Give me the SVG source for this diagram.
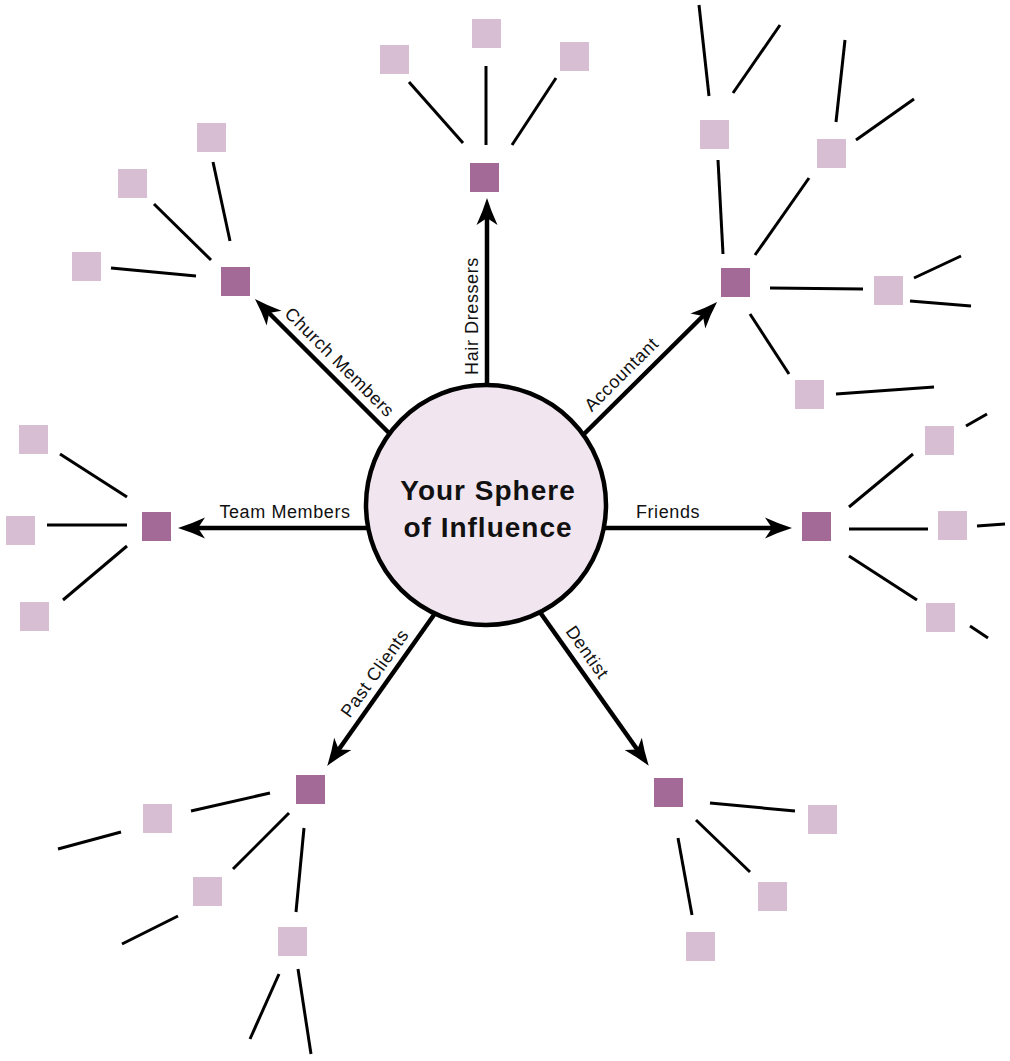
<svg xmlns="http://www.w3.org/2000/svg" width="1010" height="1061" viewBox="0 0 1010 1061">
<style>
.hub{fill:#a36a98}
.leaf{fill:#d8bed3}
.br{stroke:#000;stroke-width:3;fill:none}
.arr{stroke:#000;stroke-width:4.5;fill:none;marker-end:url(#ah)}
.lbl{font-family:"Liberation Sans",Arial,sans-serif;font-size:18px;letter-spacing:0.6px;fill:#111;text-anchor:middle}
.title{font-family:"Liberation Sans",Arial,sans-serif;font-size:28px;font-weight:bold;letter-spacing:1px;fill:#111;text-anchor:middle}
</style>
<defs>
<marker id="ah" markerUnits="userSpaceOnUse" viewBox="-12 -12 32 24" refX="0" refY="0" markerWidth="32" markerHeight="24" orient="auto" overflow="visible">
<path d="M17,0 Q4,-4 -10,-10.5 L-3,0 L-10,10.5 Q4,4 17,0 Z" fill="#000"/>
</marker>
</defs>
<rect width="1010" height="1061" fill="#fff"/>
<g id="connectors">
<line class="arr" x1="487" y1="390" x2="487" y2="215"/>
<line class="arr" x1="392" y1="436" x2="267" y2="311"/>
<line class="arr" x1="582" y1="436" x2="705" y2="314"/>
<line class="arr" x1="370" y1="528" x2="195" y2="528"/>
<line class="arr" x1="602" y1="528" x2="775" y2="528"/>
<line class="arr" x1="436" y1="612" x2="337" y2="752"/>
<line class="arr" x1="537" y1="608" x2="639" y2="752"/>
<!-- hair -->
<line class="br" x1="409" y1="82" x2="463" y2="143"/>
<line class="br" x1="486" y1="66" x2="486" y2="145"/>
<line class="br" x1="556" y1="78" x2="512" y2="145"/>
<!-- accountant -->
<line class="br" x1="699" y1="5" x2="709" y2="96"/>
<line class="br" x1="780" y1="25" x2="733" y2="93"/>
<line class="br" x1="845" y1="40" x2="836" y2="122"/>
<line class="br" x1="914" y1="99" x2="856" y2="140"/>
<line class="br" x1="718" y1="160" x2="723" y2="254"/>
<line class="br" x1="809" y1="178" x2="755" y2="255"/>
<line class="br" x1="770" y1="288" x2="863" y2="289"/>
<line class="br" x1="914" y1="278" x2="961" y2="256"/>
<line class="br" x1="910" y1="301" x2="971" y2="306"/>
<line class="br" x1="750" y1="314" x2="789" y2="374"/>
<line class="br" x1="836" y1="394" x2="934" y2="387"/>
<!-- friends -->
<line class="br" x1="966" y1="426" x2="987" y2="414"/>
<line class="br" x1="849" y1="507" x2="913" y2="454"/>
<line class="br" x1="849" y1="529" x2="928" y2="529"/>
<line class="br" x1="849" y1="556" x2="917" y2="600"/>
<line class="br" x1="977" y1="526" x2="1005" y2="524"/>
<line class="br" x1="970" y1="626" x2="988" y2="638"/>
<!-- team -->
<line class="br" x1="60" y1="454" x2="127" y2="497"/>
<line class="br" x1="47" y1="525" x2="127" y2="525"/>
<line class="br" x1="127" y1="546" x2="63" y2="600"/>
<!-- church -->
<line class="br" x1="213" y1="162" x2="230" y2="241"/>
<line class="br" x1="154" y1="204" x2="211" y2="260"/>
<line class="br" x1="111" y1="268" x2="196" y2="276"/>
<!-- past clients -->
<line class="br" x1="191" y1="811" x2="270" y2="793"/>
<line class="br" x1="58" y1="849" x2="121" y2="832"/>
<line class="br" x1="289" y1="813" x2="233" y2="869"/>
<line class="br" x1="178" y1="916" x2="122" y2="944"/>
<line class="br" x1="304" y1="828" x2="296" y2="912"/>
<line class="br" x1="279" y1="974" x2="250" y2="1039"/>
<line class="br" x1="298" y1="969" x2="311" y2="1054"/>
<!-- dentist -->
<line class="br" x1="710" y1="803" x2="795" y2="811"/>
<line class="br" x1="696" y1="820" x2="750" y2="872"/>
<line class="br" x1="678" y1="838" x2="692" y2="915"/>
<!-- labels -->
<text class="lbl" transform="translate(478,316) rotate(-90)" x="0" y="0">Hair Dressers</text>
<text class="lbl" transform="translate(329,373) rotate(45)" x="0" y="-9">Church Members</text>
<text class="lbl" transform="translate(632,385) rotate(-45)" x="0" y="-9">Accountant</text>
<text class="lbl" x="285" y="518">Team Members</text>
<text class="lbl" x="668" y="518">Friends</text>
<text class="lbl" transform="translate(387,682) rotate(-54.5)" x="0" y="-9">Past Clients</text>
<text class="lbl" transform="translate(575,661) rotate(54.7)" x="0" y="-9">Dentist</text>
</g>
<g id="center">
<circle cx="486" cy="505" r="120" fill="#f1e6ef" stroke="#000" stroke-width="4.5"/>
<text class="title" x="488" y="500">Your Sphere</text>
<text class="title" x="488" y="537">of Influence</text>
</g>
<g id="hair"><rect class="hub" x="470" y="163" width="29" height="29"/><rect class="leaf" x="380" y="45" width="29" height="29"/><rect class="leaf" x="472" y="19" width="29" height="29"/><rect class="leaf" x="560" y="42" width="29" height="29"/></g>
<g id="accountant"><rect class="hub" x="721" y="268" width="29" height="29"/><rect class="leaf" x="700" y="120" width="29" height="29"/><rect class="leaf" x="817" y="139" width="29" height="29"/><rect class="leaf" x="874" y="276" width="29" height="29"/><rect class="leaf" x="795" y="380" width="29" height="29"/></g>
<g id="friends"><rect class="hub" x="802" y="512" width="29" height="29"/><rect class="leaf" x="925" y="426" width="29" height="29"/><rect class="leaf" x="938" y="511" width="29" height="29"/><rect class="leaf" x="926" y="603" width="29" height="29"/></g>
<g id="team"><rect class="hub" x="142" y="512" width="29" height="29"/><rect class="leaf" x="19" y="425" width="29" height="29"/><rect class="leaf" x="6" y="516" width="29" height="29"/><rect class="leaf" x="20" y="602" width="29" height="29"/></g>
<g id="church"><rect class="hub" x="221" y="267" width="29" height="29"/><rect class="leaf" x="197" y="123" width="29" height="29"/><rect class="leaf" x="118" y="169" width="29" height="29"/><rect class="leaf" x="72" y="252" width="29" height="29"/></g>
<g id="past-clients"><rect class="hub" x="296" y="775" width="29" height="29"/><rect class="leaf" x="143" y="804" width="29" height="29"/><rect class="leaf" x="193" y="877" width="29" height="29"/><rect class="leaf" x="278" y="927" width="29" height="29"/></g>
<g id="dentist"><rect class="hub" x="654" y="778" width="29" height="29"/><rect class="leaf" x="808" y="805" width="29" height="29"/><rect class="leaf" x="758" y="882" width="29" height="29"/><rect class="leaf" x="686" y="932" width="29" height="29"/></g>
</svg>
